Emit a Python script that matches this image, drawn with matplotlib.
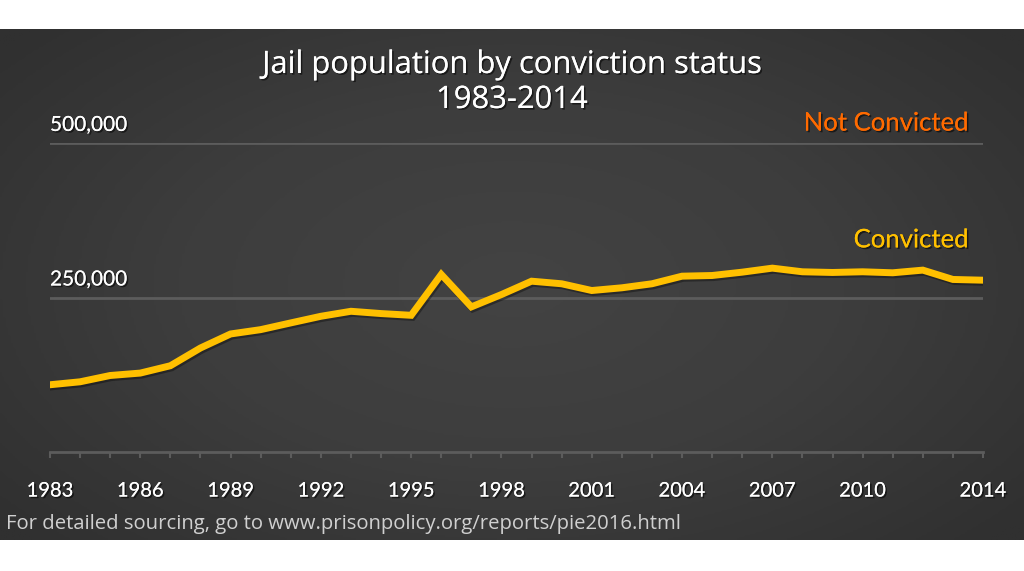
import numpy as np
import matplotlib
matplotlib.use("Agg")
import matplotlib.pyplot as plt
import matplotlib.patheffects as pe

# data
years = list(range(1983, 2015))
convicted = [108800, 113600, 123800, 127700, 139600, 168300, 191000, 198000,
             208900, 219600, 227700, 224000, 221200, 287300, 234800, 254800,
             276400, 272200, 261300, 265700, 272200, 284500, 285600, 291000,
             297500, 291600, 290500, 291600, 290000, 294300, 279200, 278000]
label_years = [1983, 1986, 1989, 1992, 1995, 1998, 2001, 2004, 2007, 2010, 2014]
grid_values = [250000, 500000]
grid_labels = ["250,000", "500,000"]

GOLD = "#FFC000"
ORANGE = "#FF6A00"
GRID = "#5c5c5c"
FONT = ["Lato", "DejaVu Sans"]
WIDE = ["Open Sans", "DejaVu Sans"]

shadow = [pe.withSimplePatchShadow(offset=(1.2, -1.2), shadow_rgbFace="black", alpha=0.55), pe.Normal()]

fig = plt.figure(figsize=(10.24, 5.71), dpi=100)
fig.patch.set_facecolor("white")

# dark panel with a soft radial gradient
bg = fig.add_axes([0, 31 / 571, 1, 511 / 571])
yy, xx = np.mgrid[-1:1:200j, -1:1:400j]
r = np.sqrt(xx ** 2 + (yy * 0.9) ** 2)
bg.imshow(np.clip(r, 0, 1.3), cmap=matplotlib.colors.LinearSegmentedColormap.from_list(
    "panel", ["#434343", "#3d3d3d", "#303030"]), aspect="auto", extent=[0, 1, 0, 1])
bg.set_xlim(0, 1)
bg.set_ylim(0, 1)
bg.axis("off")

ax = fig.add_axes([50 / 1024, (571 - 452) / 571, 933 / 1024, 309 / 571])
ax.patch.set_alpha(0)
ax.set_xlim(1983, 2014)
ax.set_ylim(0, 500000)

for v, lab in zip(grid_values, grid_labels):
    ax.axhline(v, color=GRID, lw=2, zorder=1)
    ax.text(1983, v + 13000, lab, color="white", fontsize=15, family=FONT,
            ha="left", va="bottom", path_effects=shadow)

ax.plot(years, convicted, color=GOLD, lw=5, solid_joinstyle="miter", zorder=3,
        path_effects=[pe.SimpleLineShadow(offset=(1, -1.5), alpha=0.35), pe.Normal()])

for s in ["top", "right", "left"]:
    ax.spines[s].set_visible(False)
ax.spines["bottom"].set_color(GRID)
ax.spines["bottom"].set_linewidth(2)
ax.set_yticks([])
ax.set_xticks(years)
ax.set_xticklabels([str(y) if y in label_years else "" for y in years])
ax.tick_params(axis="x", colors=GRID, length=4, width=1.5, pad=18,
               labelcolor="white", labelsize=14.5)
for t in ax.get_xticklabels():
    t.set_family(FONT)
    t.set_path_effects(shadow)

ax.text(0.985, 500000 + 12000, "Not Convicted", transform=ax.get_yaxis_transform(),
        color=ORANGE, fontsize=18.5, family=FONT, ha="right", va="bottom", path_effects=shadow)
ax.text(0.985, 323000, "Convicted", transform=ax.get_yaxis_transform(),
        color=GOLD, fontsize=18.5, family=FONT, ha="right", va="bottom", path_effects=shadow)

fig.text(0.5, 1 - 65 / 571, "Jail population by conviction status", color="white",
         fontsize=22.3, family=WIDE, ha="center", va="center", path_effects=shadow)
fig.text(0.5, 1 - 100 / 571, "1983-2014", color="white", fontsize=22.3,
         family=WIDE, ha="center", va="center", path_effects=shadow)

fig.text(6 / 1024, 1 - 524 / 571,
         "For detailed sourcing, go to www.prisonpolicy.org/reports/pie2016.html",
         color="#d0d0d0", fontsize=14.6, family=WIDE, ha="left", va="center")

fig.savefig("out.png", dpi=100, facecolor=fig.get_facecolor())
